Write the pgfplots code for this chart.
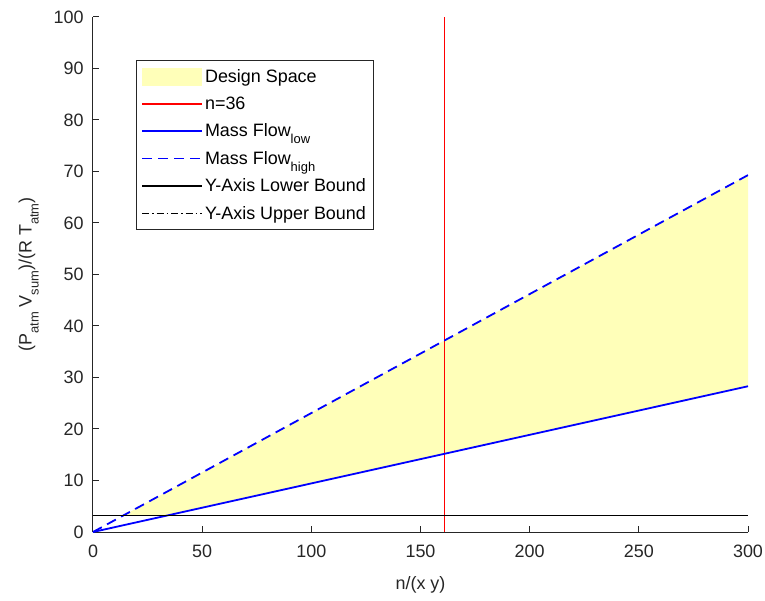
\documentclass[border=0pt]{standalone}
\usepackage{fontspec}
\setmainfont{Liberation Sans}
\usepackage{pgfplots}
\pgfplotsset{compat=1.18}
\definecolor{axgray}{RGB}{38,38,38}
\definecolor{dsyellow}{RGB}{255,255,185}
\newcommand{\sub}[1]{\raisebox{-7bp}{\fontsize{13}{13}\selectfont #1}}

\begin{document}
\begin{tikzpicture}
\begin{axis}[
    at={(0,0)}, anchor=south west,
    scale only axis,
    width=655bp, height=515bp,
    xmin=0, xmax=300, ymin=0, ymax=100,
    xtick={0,50,...,300}, ytick={0,10,...,100},
    axis lines*=left,
    axis line style={axgray, line width=1bp},
    tick align=inside,
    major tick length=6bp,
    tick style={axgray, line width=1bp},
    ticklabel style={axgray},
    xticklabel style={yshift=-9bp},
    yticklabel style={xshift=-6bp},
    /pgf/number format/assume math mode=true,
    font=\fontsize{18}{21.6}\selectfont,
    xlabel={n/(x y)},
    ylabel={(P\sub{atm} V\sub{sum})/(R T\sub{atm})},
    label style={axgray},
    xlabel style={yshift=-12bp},
    ylabel style={yshift=8bp},
    legend style={at={(0.0656,0.9165)}, anchor=north west, draw=axgray,
        line width=0.6bp, font=\fontsize{18}{21.6}\selectfont,
        row sep=9bp, inner xsep=5bp, inner ysep=7bp},
    legend cell align=left,
    legend image code/.code={\draw[#1] (0bp,0bp) -- (60bp,0bp);},
]
% design space between upper flow and max(lower flow, lower bound)
\addplot[fill=dsyellow, draw=none, area legend,
    legend image code/.code={\fill[dsyellow] (0bp,-9bp) rectangle (60bp,9bp);}]
    coordinates {(13.9,3.2) (33.9,3.2) (300,28.3) (300,69.3)} -- cycle;
\addlegendentry{Design Space}
\addplot[red, line width=1.8bp] coordinates {(161,0) (161,100)};
\addlegendentry{n=36}
\addplot[blue, line width=1.8bp] coordinates {(0,0) (300,28.3)};
\addlegendentry{Mass Flow\sub{low}}
\addplot[blue, line width=1.8bp, dash pattern=on 10bp off 6bp] coordinates {(0,0) (300,69.3)};
\addlegendentry{Mass Flow\sub{high}}
\addplot[black, line width=1.8bp] coordinates {(0,3.2) (300,3.2)};
\addlegendentry{Y-Axis Lower Bound}
\addlegendimage{black, line width=1.8bp, dash pattern=on 7bp off 3bp on 1.5bp off 3bp}
\addlegendentry{Y-Axis Upper Bound}
\end{axis}
\pgfresetboundingbox
\path[use as bounding box] (-93bp,-69bp) rectangle (672bp,532bp);
\end{tikzpicture}
\end{document}
